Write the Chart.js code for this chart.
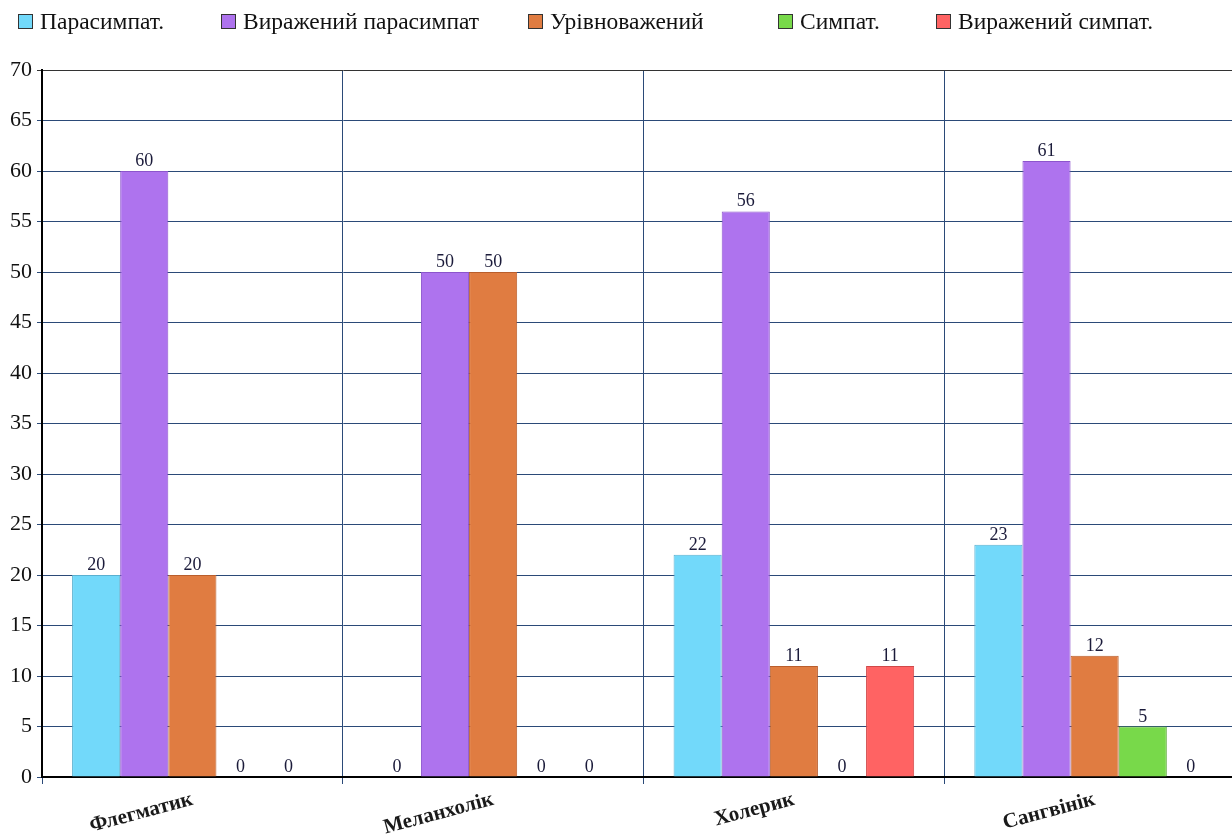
<!DOCTYPE html>
<html>
<head>
<meta charset="utf-8">
<script src="https://cdn.jsdelivr.net/npm/chart.js@4"></script>
<style>
  html, body { margin: 0; padding: 0; background: #fff; overflow: hidden; }
  #wrap { position: relative; width: 1250px; height: 834px; }
  #legend {
    position: absolute; left: 18px; top: 8px;
    display: flex;
    font-family: "Liberation Serif", serif; font-size: 23.5px; color: #111;
  }
  #legend span { display: flex; align-items: center; white-space: nowrap; }
  #legend span:nth-child(1) { width: 203px; }
  #legend span:nth-child(2) { width: 307px; }
  #legend span:nth-child(3) { width: 250px; }
  #legend span:nth-child(4) { width: 158px; }
  #legend i {
    display: inline-block; width: 13px; height: 13px;
    border: 1.5px solid #333; margin-right: 7px;
  }
</style>
</head>
<body>
<div id="wrap">
  <div id="legend"></div>
  <canvas id="chart" width="1250" height="834"></canvas>
</div>
<script>
const categories = ["Флегматик", "Меланхолік", "Холерик", "Сангвінік"];
const seriesNames = ["Парасимпат.", "Виражений парасимпат", "Урівноважений", "Симпат.", "Виражений симпат."];
const parasympat = [20, 0, 22, 23];
const vyrazhParasympat = [60, 50, 56, 61];
const urivnovazh = [20, 50, 11, 12];
const sympat = [0, 0, 0, 5];
const vyrazhSympat = [0, 0, 11, 0];
const yTicks = [0, 5, 10, 15, 20, 25, 30, 35, 40, 45, 50, 55, 60, 65, 70];

const fills = ["#72d9fa", "#ae73ee", "#e07c41", "#78d94a", "#ff6363"];
const borders = ["#5ab0d0", "#8c55cc", "#b95e2c", "#58a832", "#d04848"];
const seriesData = [parasympat, vyrazhParasympat, urivnovazh, sympat, vyrazhSympat];

// legend as plain html
const legend = document.getElementById("legend");
seriesNames.forEach((name, i) => {
    legend.innerHTML += `<span><i style="background:${fills[i]}"></i>${name}</span>`;
});

// value labels with a white backing box
const valueLabels = {
    id: "valueLabels",
    afterDatasetsDraw(chart) {
        const ctx = chart.ctx;
        ctx.save();
        ctx.font = '18px "Liberation Serif", serif';
        ctx.textAlign = "center";
        ctx.textBaseline = "alphabetic";
        chart.data.datasets.forEach((ds, di) => {
            chart.getDatasetMeta(di).data.forEach((bar, i) => {
                const txt = String(ds.data[i]);
                const w = ctx.measureText(txt).width;
                ctx.fillStyle = "#fff";
                ctx.fillRect(bar.x - w / 2 - 5, bar.y - 19, w + 10, 18);
                ctx.fillStyle = "#1b1b3a";
                ctx.fillText(txt, bar.x, bar.y - 5);
            });
        });
        ctx.restore();
    }
};

new Chart(document.getElementById("chart"), {
    type: "bar",
    data: {
        labels: categories,
        datasets: seriesData.map((d, i) => ({
            label: seriesNames[i],
            data: d,
            backgroundColor: fills[i],
            borderColor: borders[i],
            borderWidth: 1,
            categoryPercentage: 0.8,
            barPercentage: 1.0
        }))
    },
    options: {
        responsive: false,
        animation: false,
        layout: { padding: { top: 70, right: 5, left: 0, bottom: 0 } },
        plugins: { legend: { display: false }, tooltip: { enabled: false } },
        scales: {
            x: {
                grid: { color: "#2b4a78", lineWidth: 1, tickLength: 7, offset: true },
                border: { color: "#000", width: 2 },
                ticks: {
                    color: "#1a1a1a",
                    font: { family: "Liberation Serif", size: 21, weight: "bold" },
                    minRotation: 15, maxRotation: 15, padding: 3
                },
                afterFit(scale) { scale.height = 57; }
            },
            y: {
                min: 0, max: 70,
                afterBuildTicks(scale) { scale.ticks = yTicks.map(v => ({ value: v })); },
                grid: {
                    color: ctx => ctx.tick && ctx.tick.value === 70 ? "#333" : "#2b4a78",
                    lineWidth: 1, tickLength: 5
                },
                border: { color: "#000", width: 2 },
                ticks: {
                    color: "#111",
                    font: { family: "Liberation Serif", size: 22 },
                    padding: 5
                },
                afterFit(scale) { scale.width = 42; }
            }
        }
    },
    plugins: [valueLabels]
});
</script>
</body>
</html>
